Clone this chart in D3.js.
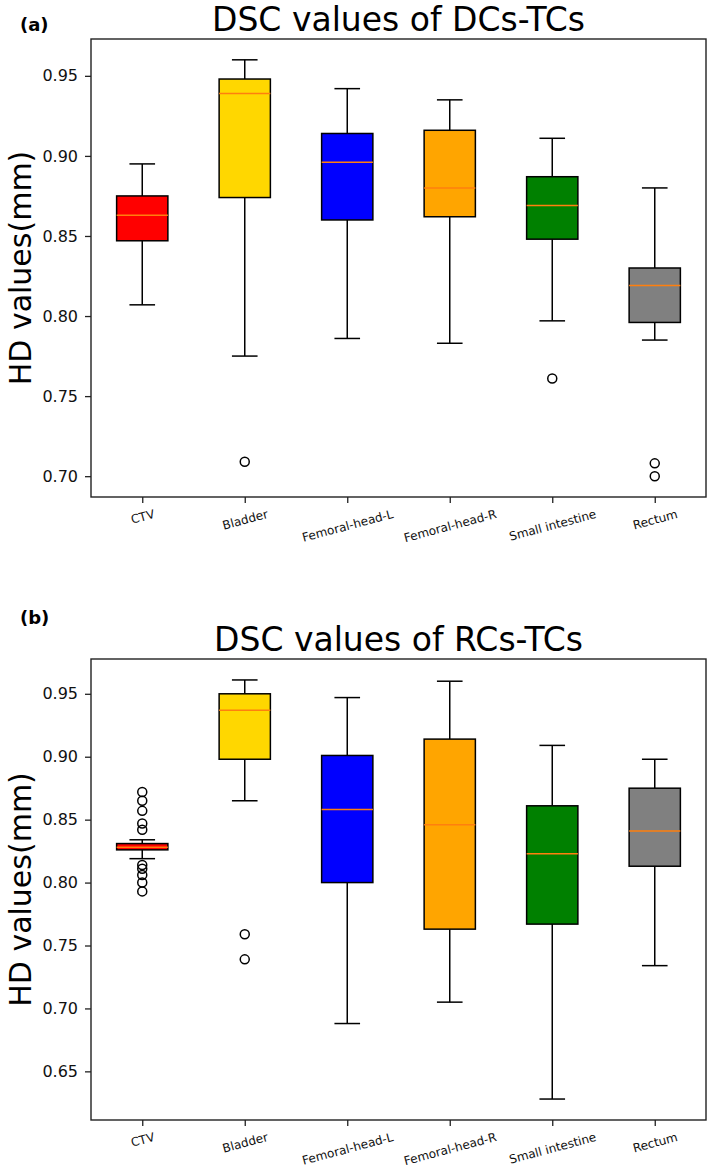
<!DOCTYPE html>
<html lang="en">
<head>
<meta charset="UTF-8" />
<title>DSC values</title>
<script src="https://cdn.jsdelivr.net/npm/d3@7"></script>
<style>
    body { margin: 0; background: #fff; }
    svg { display: block; font-family: 'DejaVu Sans', sans-serif; }
</style>
</head>
<body>
<svg id="chart" width="709" height="1169"></svg>
<script>
const organs = ['CTV', 'Bladder', 'Femoral-head-L', 'Femoral-head-R', 'Small intestine', 'Rectum']
const boxColors = ['#ff0000', '#ffd700', '#0000ff', '#ffa500', '#008000', '#808080']

// (a) DCs-TCs
const dcLow = [0.807, 0.775, 0.786, 0.783, 0.797, 0.785]
const dcQ1 = [0.847, 0.874, 0.860, 0.862, 0.848, 0.796]
const dcMedian = [0.863, 0.939, 0.896, 0.880, 0.869, 0.819]
const dcQ3 = [0.875, 0.948, 0.914, 0.916, 0.887, 0.830]
const dcHigh = [0.895, 0.960, 0.942, 0.935, 0.911, 0.880]
const dcOutliers = [[], [0.709], [], [], [0.761], [0.708, 0.700]]

// (b) RCs-TCs
const rcLow = [0.819, 0.865, 0.688, 0.705, 0.628, 0.734]
const rcQ1 = [0.826, 0.898, 0.800, 0.763, 0.767, 0.813]
const rcMedian = [0.828, 0.937, 0.858, 0.846, 0.823, 0.841]
const rcQ3 = [0.831, 0.950, 0.901, 0.914, 0.861, 0.875]
const rcHigh = [0.834, 0.961, 0.947, 0.960, 0.909, 0.898]
const rcOutliers = [
    [0.872, 0.865, 0.857, 0.847, 0.842, 0.814, 0.811, 0.806, 0.800, 0.793],
    [0.759, 0.739], [], [], [], []
]

const yTicksA = [0.70, 0.75, 0.80, 0.85, 0.90, 0.95]
const yTicksB = [0.65, 0.70, 0.75, 0.80, 0.85, 0.90, 0.95]

const panels = [
    { tag: '(a)', tagY: 31, title: 'DSC values of DCs-TCs', top: 39, bottom: 497, ticks: yTicksA,
      low: dcLow, q1: dcQ1, med: dcMedian, q3: dcQ3, high: dcHigh, out: dcOutliers },
    { tag: '(b)', tagY: 624, title: 'DSC values of RCs-TCs', top: 659, bottom: 1120, ticks: yTicksB,
      low: rcLow, q1: rcQ1, med: rcMedian, q3: rcQ3, high: rcHigh, out: rcOutliers },
]

const left = 91, right = 706
const svg = d3.select('#chart')

panels.forEach(drawPanel)

function drawPanel(p) {
    const g = svg.append('g')

    // matplotlib style autoscale: 5% margin round the data
    const lo = d3.min([...p.low, ...p.out.flat()])
    const hi = d3.max([...p.high, ...p.out.flat()])
    const m = (hi - lo) * 0.05

    const y = d3.scaleLinear().domain([lo - m, hi + m]).range([p.bottom, p.top])
    const x = d3.scaleLinear().domain([0.5, organs.length + 0.5]).range([left, right])
    const boxW = x(1.25) - x(0.75)
    const capW = boxW / 2

    const rows = organs.map((name, i) => ({
        name, i, color: boxColors[i],
        low: p.low[i], q1: p.q1[i], med: p.med[i], q3: p.q3[i], high: p.high[i], out: p.out[i]
    }))

    const box = g.selectAll('.box').data(rows).enter()
        .append('g')
        .attr('class', 'box')
        .attr('transform', d => `translate(${x(d.i + 1)},0)`)

    box.append('line')
        .attr('y1', d => y(d.q1)).attr('y2', d => y(d.low))
        .style('stroke', '#000').style('stroke-width', 1.5)
    box.append('line')
        .attr('y1', d => y(d.q3)).attr('y2', d => y(d.high))
        .style('stroke', '#000').style('stroke-width', 1.5)
    box.selectAll('line.cap')
        .data(d => [d.low, d.high])
        .enter().append('line')
        .attr('class', 'cap')
        .attr('x1', -capW / 2).attr('x2', capW / 2)
        .attr('y1', d => y(d)).attr('y2', d => y(d))
        .style('stroke', '#000').style('stroke-width', 1.5)
    box.append('rect')
        .attr('x', -boxW / 2)
        .attr('width', boxW)
        .attr('y', d => y(d.q3))
        .attr('height', d => y(d.q1) - y(d.q3))
        .style('fill', d => d.color)
        .style('stroke', '#000').style('stroke-width', 1.5)
    box.append('line')
        .attr('x1', -boxW / 2).attr('x2', boxW / 2)
        .attr('y1', d => y(d.med)).attr('y2', d => y(d.med))
        .style('stroke', '#ff7f0e').style('stroke-width', 1.5)
    box.selectAll('circle')
        .data(d => d.out)
        .enter().append('circle')
        .attr('cy', d => y(d))
        .attr('r', 4.5)
        .style('fill', 'none')
        .style('stroke', '#000').style('stroke-width', 1.5)

    // frame
    g.append('rect')
        .attr('x', left).attr('y', p.top)
        .attr('width', right - left).attr('height', p.bottom - p.top)
        .style('fill', 'none').style('stroke', '#222').style('stroke-width', 1.4)

    const yAxis = g.append('g')
        .attr('transform', `translate(${left},0)`)
        .call(d3.axisLeft(y).tickValues(p.ticks).tickFormat(d3.format('.2f')).tickSize(6).tickPadding(7).tickSizeOuter(0))
    yAxis.select('.domain').remove()
    yAxis.selectAll('line').style('stroke', '#222').style('stroke-width', 1.3)
    yAxis.selectAll('text').style('font-size', '16px').style('fill', '#111').style('font-family', 'DejaVu Sans')

    const xAxis = g.append('g')
        .attr('transform', `translate(0,${p.bottom})`)
        .call(d3.axisBottom(x).tickValues(organs.map((d, i) => i + 1)).tickFormat((d, i) => organs[i]).tickSize(6).tickSizeOuter(0))
    xAxis.select('.domain').remove()
    xAxis.selectAll('line').style('stroke', '#222').style('stroke-width', 1.3)
    const fs = 12
    const ang = 15 * Math.PI / 180
    xAxis.selectAll('text')
        .style('font-size', fs + 'px').style('fill', '#111').style('font-family', 'DejaVu Sans')
        .attr('y', 0).attr('dy', null)
        .attr('text-anchor', 'middle')
        .attr('dominant-baseline', 'central')
        .attr('transform', function () {
            const w = this.getComputedTextLength()
            const h = fs * 1.17
            const hr = w * Math.sin(ang) + h * Math.cos(ang)
            return `translate(0,${6 + 4 + hr / 2}) rotate(-15)`
        })

    // titles
    g.append('text')
        .attr('x', (left + right) / 2).attr('y', p.top - 8)
        .attr('text-anchor', 'middle')
        .style('font-size', '33px')
        .text(p.title)
    g.append('text')
        .attr('x', 20).attr('y', p.tagY)
        .style('font-size', '18px').style('font-weight', 'bold')
        .text(p.tag)
    g.append('text')
        .attr('transform', `translate(31,${(p.top + p.bottom) / 2}) rotate(-90)`)
        .attr('text-anchor', 'middle')
        .style('font-size', '30px')
        .text('HD values(mm)')
}
</script>
</body>
</html>
